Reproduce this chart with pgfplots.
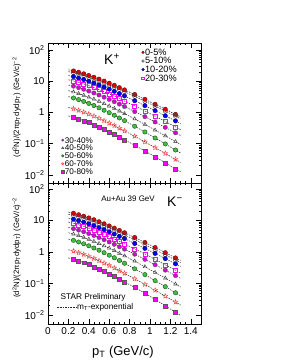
\documentclass[border=0pt]{standalone}
\usepackage{fontspec}
\setmainfont{Liberation Sans}
\usepackage{pgfplots}
\pgfplotsset{compat=1.18}
\usepackage{pgfplotstable}

\pgfdeclareplotmark{ostar}{%
  \pgfpathmoveto{\pgfpointpolar{90}{\pgfplotmarksize}}%
  \pgfpathlineto{\pgfpointpolar{126}{0.45\pgfplotmarksize}}%
  \pgfpathlineto{\pgfpointpolar{162}{\pgfplotmarksize}}%
  \pgfpathlineto{\pgfpointpolar{198}{0.45\pgfplotmarksize}}%
  \pgfpathlineto{\pgfpointpolar{234}{\pgfplotmarksize}}%
  \pgfpathlineto{\pgfpointpolar{270}{0.45\pgfplotmarksize}}%
  \pgfpathlineto{\pgfpointpolar{306}{\pgfplotmarksize}}%
  \pgfpathlineto{\pgfpointpolar{342}{0.45\pgfplotmarksize}}%
  \pgfpathlineto{\pgfpointpolar{18}{\pgfplotmarksize}}%
  \pgfpathlineto{\pgfpointpolar{54}{0.45\pgfplotmarksize}}%
  \pgfpathclose\pgfusepathqstroke}

\definecolor{kred}{RGB}{235,0,0}
\definecolor{kmag}{RGB}{255,0,255}
\definecolor{kpur}{RGB}{215,0,215}
\definecolor{kgreen}{RGB}{70,190,70}
\definecolor{kstar}{RGB}{255,70,70}

% K+ spectra (top panel)
\pgfplotstableread{
pt a b c d e f g h i
0.20 23.2 20.2 15.2 11.1 7.57 4.98 3.21 1.45 0.774
0.25 21.4 18.6 14.0 10.2 6.92 4.53 2.91 1.32 0.701
0.30 19.4 16.9 12.6 9.16 6.22 4.05 2.58 1.17 0.624
0.35 17.3 15.1 11.3 8.15 5.52 3.56 2.26 1.03 0.546
0.40 15.3 13.3 9.98 7.16 4.84 3.10 1.95 0.895 0.473
0.45 13.4 11.7 8.73 6.24 4.21 2.67 1.67 0.767 0.405
0.50 11.7 10.2 7.55 5.38 3.61 2.27 1.41 0.652 0.343
0.55 10.1 8.80 6.50 4.60 3.09 1.92 1.18 0.548 0.288
0.60 8.65 7.53 5.56 3.92 2.62 1.61 0.984 0.459 0.240
0.65 7.39 6.44 4.74 3.32 2.21 1.35 0.817 0.382 0.200
0.70 6.25 5.44 4.00 2.78 1.85 1.11 0.668 0.315 0.164
0.75 5.30 4.62 3.38 2.33 1.55 0.920 0.547 0.259 0.134
0.85 3.76 3.27 2.38 1.63 1.07 0.624 0.363 0.174 0.0895
0.95 2.64 2.30 1.66 1.12 0.735 0.416 0.238 0.115 0.0589
1.05 1.83 1.59 1.15 0.760 0.497 0.274 0.153 0.0752 0.0382
1.15 1.27 1.11 0.787 0.515 0.334 0.180 0.0989 0.0490 0.0247
1.25 0.871 0.759 0.537 0.347 0.224 0.117 0.0631 0.0316 0.0158
1.30 0.721 0.628 0.443 0.284 0.183 0.0946 0.0504 0.0254 0.0127
}\kp

% K- spectra (bottom panel)
\pgfplotstableread{
pt a b c d e f g h i
0.20 18.4 15.7 11.9 8.89 6.01 4.08 2.58 1.18 0.649
0.25 17.0 14.5 11.0 8.13 5.49 3.71 2.34 1.07 0.588
0.30 15.3 13.0 9.87 7.31 4.94 3.32 2.08 0.951 0.524
0.35 13.7 11.7 8.85 6.49 4.38 2.92 1.82 0.837 0.458
0.40 12.1 10.3 7.81 5.69 3.84 2.54 1.57 0.728 0.397
0.45 10.6 9.02 6.84 4.95 3.34 2.19 1.34 0.624 0.340
0.50 9.16 7.80 5.91 4.24 2.87 1.86 1.14 0.530 0.288
0.55 7.88 6.71 5.09 3.63 2.45 1.57 0.950 0.446 0.242
0.60 6.74 5.74 4.35 3.08 2.08 1.32 0.792 0.373 0.201
0.65 5.75 4.89 3.71 2.60 1.75 1.11 0.658 0.311 0.168
0.70 4.85 4.13 3.13 2.17 1.47 0.910 0.538 0.256 0.138
0.75 4.10 3.49 2.65 1.82 1.23 0.754 0.440 0.211 0.112
0.85 2.89 2.46 1.86 1.26 0.850 0.512 0.292 0.141 0.0751
0.95 2.01 1.71 1.30 0.864 0.584 0.341 0.192 0.0935 0.0494
1.05 1.39 1.18 0.900 0.584 0.395 0.225 0.123 0.0611 0.031
1.15 0.955 0.813 0.616 0.392 0.265 0.148 0.0796 0.0398 0.0196
1.25 0.651 0.554 0.420 0.263 0.178 0.0959 0.0508 0.0257 0.0122
1.30 0.537 0.457 0.347 0.215 0.145 0.0776 0.0406 0.0207 0.0097
}\km

\tikzset{
  fitl/.style={black!85, line width=0.5pt, dash pattern=on 1.5pt off 1.1pt},
  s1/.style={only marks, mark=*, mark size=2.2pt, mark options={solid, fill=kred, draw=red!40!black, line width=0.35pt}},
  s2/.style={only marks, mark=o, mark size=2.1pt, mark options={solid, draw=black!75, line width=0.45pt}},
  s3/.style={only marks, mark=*, mark size=2.2pt, mark options={solid, fill=blue, draw=blue!40!black, line width=0.35pt}},
  s4/.style={only marks, mark=square, mark size=2.0pt, mark options={solid, draw=kmag, line width=0.55pt}},
  s5/.style={only marks, mark=*, mark size=2.2pt, mark options={solid, fill=kpur, draw=black!65, line width=0.35pt}},
  s6/.style={only marks, mark=triangle, mark size=2.1pt, mark options={solid, draw=black!75, line width=0.45pt}},
  s7/.style={only marks, mark=*, mark size=2.2pt, mark options={solid, fill=kgreen, draw=green!30!black, line width=0.35pt}},
  s8/.style={only marks, mark=ostar, mark size=2.5pt, mark options={solid, draw=kstar, line width=0.45pt}},
  s9/.style={only marks, mark=square*, mark size=2.0pt, mark options={solid, fill=kmag, draw=black!65, line width=0.35pt}},
}

\begin{document}
\begin{tikzpicture}
\useasboundingbox (0,0) rectangle (281bp,363bp);

% ---------- top panel: K+ ----------
\begin{axis}[scale only axis, width=153bp, height=140bp, anchor=south west, at={(48bp,180bp)},
    xmin=0, xmax=1.5, ymode=log, ymin=0.00555, ymax=167,
    xtick={0,0.2,0.4,0.6,0.8,1,1.2,1.4}, xticklabels={},
    minor x tick num=3,
    ytick={0.01,0.1,1,10,100},
    yticklabels={10\textsuperscript{−2},10\textsuperscript{−1},1,10,10\textsuperscript{2}},
    tick align=inside,
    major tick length=5pt, minor tick length=2.5pt,
    axis line style={line width=0.8pt},
    every tick/.style={black, line width=0.5pt},
    tick label style={font=\fontsize{10}{11}\selectfont},
    ylabel={(d\textsuperscript{2}N)/(2πp\textsubscript{T}dydp\textsubscript{T}) (GeV/c)\textsuperscript{−2}},
    ylabel style={font=\fontsize{7.8}{8}\selectfont, at={(axis description cs:-0.205,0.54)}, anchor=center},
    legend cell align=left,
    legend image code/.code={\draw[mark repeat=1,#1,mark size=1.3pt] plot coordinates {(0.1cm,0cm)}; \path (0cm,0cm) (0.16cm,0cm);},
    legend style={at={(rel axis cs:0.6,0.957)}, anchor=north west, draw=none, fill=none,
      inner sep=0pt, row sep=2.2pt, font=\fontsize{9.2}{9.2}\selectfont,
      nodes={inner sep=0.2pt, text height=6pt, text depth=0pt},
      /tikz/every even column/.style={column sep=0.5pt}}]
  \addplot[fitl, forget plot] table[x=pt,y=a]{\kp};
  \addplot[fitl, forget plot] table[x=pt,y=b]{\kp};
  \addplot[fitl, forget plot] table[x=pt,y=c]{\kp};
  \addplot[fitl, forget plot] table[x=pt,y=d]{\kp};
  \addplot[fitl, forget plot] table[x=pt,y=e]{\kp};
  \addplot[fitl, forget plot] table[x=pt,y=f]{\kp};
  \addplot[fitl, forget plot] table[x=pt,y=g]{\kp};
  \addplot[fitl, forget plot] table[x=pt,y=h]{\kp};
  \addplot[fitl, forget plot] table[x=pt,y=i]{\kp};
  \addplot[s1, restrict x to domain=0.24:1.26] table[x=pt,y=a]{\kp}; \addlegendentry{0-5\%}
  \addplot[s2, restrict x to domain=0.24:1.26] table[x=pt,y=b]{\kp}; \addlegendentry{5-10\%}
  \addplot[s3, restrict x to domain=0.24:1.26] table[x=pt,y=c]{\kp}; \addlegendentry{10-20\%}
  \addplot[s4, restrict x to domain=0.24:1.26] table[x=pt,y=d]{\kp}; \addlegendentry{20-30\%}
  \node[font=\fontsize{14}{14}\selectfont] at (rel axis cs:0.418,0.885) {K\textsuperscript{+}};
\end{axis}
\begin{axis}[scale only axis, width=153bp, height=140bp, anchor=south west, at={(48bp,180bp)},
    xmin=0, xmax=1.5, ymode=log, ymin=0.00555, ymax=167, hide axis,
    legend cell align=left,
    legend image code/.code={\draw[mark repeat=1,#1,mark size=1.3pt] plot coordinates {(0.1cm,0cm)}; \path (0cm,0cm) (0.16cm,0cm);},
    legend style={at={(rel axis cs:0.075,0.33)}, anchor=north west, draw=none, fill=none,
      inner sep=0pt, row sep=1.6pt, font=\fontsize{8.2}{8.2}\selectfont,
      nodes={inner sep=0.2pt, text height=5.9pt, text depth=0pt},
      /tikz/every even column/.style={column sep=0.5pt}}]
  \addplot[s5, restrict x to domain=0.24:1.26] table[x=pt,y=e]{\kp}; \addlegendentry{30-40\%}
  \addplot[s6, restrict x to domain=0.24:1.26] table[x=pt,y=f]{\kp}; \addlegendentry{40-50\%}
  \addplot[s7, restrict x to domain=0.24:1.26] table[x=pt,y=g]{\kp}; \addlegendentry{50-60\%}
  \addplot[s8, restrict x to domain=0.24:1.26] table[x=pt,y=h]{\kp}; \addlegendentry{60-70\%}
  \addplot[s9, restrict x to domain=0.24:1.26] table[x=pt,y=i]{\kp}; \addlegendentry{70-80\%}
\end{axis}

% ---------- bottom panel: K- ----------
\begin{axis}[scale only axis, width=153bp, height=141bp, anchor=south west, at={(48bp,39bp)},
    xmin=0, xmax=1.5, ymode=log, ymin=0.00518, ymax=155,
    xtick={0,0.2,0.4,0.6,0.8,1,1.2,1.4},
    xticklabels={0,0.2,0.4,0.6,0.8,1,1.2,1.4},
    minor x tick num=3,
    ytick={0.01,0.1,1,10,100},
    yticklabels={10\textsuperscript{−2},10\textsuperscript{−1},1,10,10\textsuperscript{2}},
    tick align=inside,
    major tick length=5pt, minor tick length=2.5pt,
    axis line style={line width=0.8pt},
    every tick/.style={black, line width=0.5pt},
    tick label style={font=\fontsize{10}{11}\selectfont},
    ylabel={(d\textsuperscript{2}N)/(2πp\textsubscript{T}dydp\textsubscript{T}) (GeV/c)\textsuperscript{−2}},
    ylabel style={font=\fontsize{7.8}{8}\selectfont, at={(axis description cs:-0.205,0.54)}, anchor=center},
    xlabel={p\textsubscript{T} (GeV/c)},
    xlabel style={font=\fontsize{13}{13}\selectfont, at={(axis description cs:0.49,-0.2)}, anchor=center},
    legend image code/.code={\draw[#1] (0bp,0bp) -- (19bp,0bp);},
    legend style={at={(rel axis cs:0.059,0.117)}, anchor=west, draw=none, fill=none,
      inner sep=0pt, font=\fontsize{8.3}{8.3}\selectfont, nodes={inner sep=0.5pt}}]
  \addplot[fitl, forget plot] table[x=pt,y=a]{\km};
  \addplot[fitl, forget plot] table[x=pt,y=b]{\km};
  \addplot[fitl, forget plot] table[x=pt,y=c]{\km};
  \addplot[fitl, forget plot] table[x=pt,y=d]{\km};
  \addplot[fitl, forget plot] table[x=pt,y=e]{\km};
  \addplot[fitl, forget plot] table[x=pt,y=f]{\km};
  \addplot[fitl, forget plot] table[x=pt,y=g]{\km};
  \addplot[fitl, forget plot] table[x=pt,y=h]{\km};
  \addplot[fitl, forget plot] table[x=pt,y=i]{\km};
  \addplot[s1, forget plot, restrict x to domain=0.24:1.26] table[x=pt,y=a]{\km};
  \addplot[s2, forget plot, restrict x to domain=0.24:1.26] table[x=pt,y=b]{\km};
  \addplot[s3, forget plot, restrict x to domain=0.24:1.26] table[x=pt,y=c]{\km};
  \addplot[s4, forget plot, restrict x to domain=0.24:1.26] table[x=pt,y=d]{\km};
  \addplot[s5, forget plot, restrict x to domain=0.24:1.26] table[x=pt,y=e]{\km};
  \addplot[s6, forget plot, restrict x to domain=0.24:1.26] table[x=pt,y=f]{\km};
  \addplot[s7, forget plot, restrict x to domain=0.24:1.26] table[x=pt,y=g]{\km};
  \addplot[s8, forget plot, restrict x to domain=0.24:1.26] table[x=pt,y=h]{\km};
  \addplot[s9, forget plot, restrict x to domain=0.24:1.26] table[x=pt,y=i]{\km};
  \addlegendimage{fitl}
  \addlegendentry{m\textsubscript{T}-exponential}
  \node[font=\fontsize{8.3}{8.3}\selectfont, anchor=west] at (rel axis cs:0.059,0.19) {STAR Preliminary};
  \node[font=\fontsize{8}{8}\selectfont] at (rel axis cs:0.523,0.887) {Au+Au 39 GeV};
  \node[font=\fontsize{14}{14}\selectfont] at (rel axis cs:0.83,0.865) {K\textsuperscript{−}};
\end{axis}
\end{tikzpicture}
\end{document}
